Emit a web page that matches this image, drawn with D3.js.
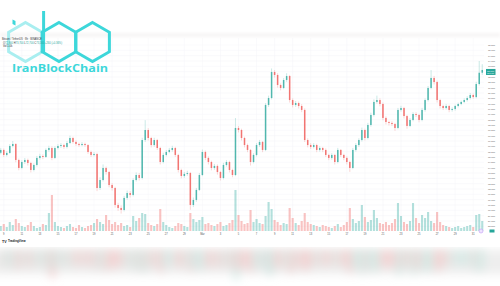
<!DOCTYPE html>
<html>
<head>
<meta charset="utf-8">
<script src="https://cdn.jsdelivr.net/npm/d3@7"></script>
<style>
  body { margin: 0; background: #fff; }
  svg { display: block; }
</style>
</head>
<body>
<script>
"use strict";

// candles (8h)
const opens = [65400,65660,65190,65380,66030,66220,64720,63970,64530,64720,
    64440,63780,64250,64910,65090,65000,65660,65840,64910,65840,
    66030,66120,65940,66310,66780,66410,66220,66120,66220,66120,
    65470,65190,65280,62090,62840,63970,63590,62370,62090,60500,
    60220,60030,61160,61620,61440,62840,63310,63030,66590,67530,
    66780,66120,66590,65840,64530,65190,65470,65660,65840,65190,
    63780,63220,63410,63500,60500,60970,61910,63310,65470,64910,
    64530,63970,64160,63590,63030,64250,64530,63780,63310,67720,
    67530,66780,66120,65660,64530,65190,66120,66410,65660,69880,
    70530,72970,72690,71750,71470,72220,72590,70340,69880,70060,
    69780,69410,66590,66120,65940,66120,65660,65840,65660,65190,
    64910,65190,64530,65660,65190,64910,64530,63970,65660,66120,
    66590,67530,66780,68000,68940,70160,70340,69970,68660,68280,
    68190,68090,67720,69410,69590,68840,67910,68470,69030,68940,
    68470,69410,70340,71470,72410,72030,70340,69780,69590,69780,
    69410,69500,69780,69970,70160,70340,70530,70810,70620,71840,
    72900];

const highs = [65850,65800,65550,66200,66500,66300,64850,64700,64900,64850,
    64550,64400,65100,65300,65250,65800,66050,66000,66000,66200,
    66300,66250,66500,67000,66900,66550,66350,66400,66350,66200,
    65600,65450,65400,63100,64300,64100,63700,62550,62200,60700,
    60450,61350,61850,61800,63000,63550,63500,66800,68450,67700,
    66900,66800,66700,65950,65400,65650,65850,66050,65950,65300,
    63900,63600,63700,63600,61200,62100,63500,65700,65600,65050,
    64650,64350,64300,63700,64450,64700,64650,63900,68650,67900,
    67650,66900,66250,65750,65350,66300,66600,66500,70050,70750,
    73300,73150,72850,71900,72400,72850,72700,70500,70250,70200,
    69950,69550,66750,66300,66300,66250,66000,65950,65800,65300,
    65350,65300,65850,65750,65300,65050,64650,65850,66300,66750,
    67750,67650,68200,69150,70400,70750,70500,70100,68800,68400,
    68350,68200,69600,69800,69700,68950,68650,69200,69200,69050,
    69600,70500,71650,73150,72600,72150,70450,69900,69950,69900,
    69650,69900,70100,70300,70500,70700,71000,70950,72050,74000,
    73700];

const lows = [65250,65000,65050,65300,65900,64500,63750,63850,64350,64200,
    63550,63650,64100,64750,64800,64900,65500,64700,64800,65700,
    65850,65750,65800,66200,66250,66050,65950,66000,65950,65300,
    65000,65050,61800,61900,62700,63350,62150,61850,60250,59950,
    59700,59900,61000,61200,61300,62700,62800,62900,66400,66550,
    65900,65950,65650,64300,64400,65050,65350,65500,65000,63550,
    63000,63050,63250,60050,60300,60800,61800,63200,64700,64300,
    63750,63800,63350,62800,62900,64100,63550,63100,63200,67300,
    66550,65900,65450,64200,64400,65050,65950,65450,65550,69700,
    70400,72450,71500,71250,71350,72050,70100,69650,69700,69550,
    69200,66400,65900,65750,65800,65450,65500,65450,65000,64700,
    64750,64300,64400,65000,64700,64300,63600,63850,65500,65950,
    66450,66550,66650,67850,68800,70000,69750,68450,68050,67950,
    67900,67450,67600,69250,68600,67650,67800,68350,68750,68250,
    68350,69250,70200,71350,71800,70100,69550,69400,69450,69200,
    69250,69350,69650,69850,70050,70200,70400,70450,70500,71700,
    72700];

const closes = [65660,65190,65380,66030,66220,64720,63970,64530,64720,64440,
    63780,64250,64910,65090,65000,65660,65840,64910,65840,66030,
    66120,65940,66310,66780,66410,66220,66120,66220,66120,65470,
    65190,65280,62090,62840,63970,63590,62370,62090,60500,60220,
    60030,61160,61620,61440,62840,63310,63030,66590,67530,66780,
    66120,66590,65840,64530,65190,65470,65660,65840,65190,63780,
    63220,63410,63500,60500,60970,61910,63310,65470,64910,64530,
    63970,64160,63590,63030,64250,64530,63780,63310,67720,67530,
    66780,66120,65660,64530,65190,66120,66410,65660,69880,70530,
    72970,72690,71750,71470,72220,72590,70340,69880,70060,69780,
    69410,66590,66120,65940,66120,65660,65840,65660,65190,64910,
    65190,64530,65660,65190,64910,64530,63970,65660,66120,66590,
    67530,66780,68000,68940,70160,70340,69970,68660,68280,68190,
    68090,67720,69410,69590,68840,67910,68470,69030,68940,68470,
    69410,70340,71470,72410,72030,70340,69780,69590,69780,69410,
    69500,69780,69970,70160,70340,70530,70810,70620,71840,72900,
    73160];

const volumes = [500,700,400,900,600,1200,800,500,400,600,
    900,500,300,400,700,600,1800,3600,900,500,
    400,300,500,700,400,300,600,400,300,500,
    600,800,1200,900,700,1600,1100,700,900,600,
    800,500,600,400,1500,1000,1300,1800,1700,800,
    600,500,700,2200,900,600,400,300,500,800,
    700,500,400,1800,1200,900,1100,1400,700,800,
    600,500,700,900,500,600,800,1100,4100,1600,
    1000,700,800,2100,900,1200,800,700,1500,2900,
    2200,1100,900,600,800,700,2300,1300,800,600,
    1000,1800,900,700,600,500,400,600,500,400,
    300,500,700,400,600,900,2300,1200,800,1000,
    2600,1400,900,1100,2100,1300,800,700,900,600,
    800,1200,2800,1500,900,700,1000,2800,1300,800,
    1600,1300,1900,1000,800,1900,900,600,500,400,
    300,400,500,300,400,500,600,400,1600,1700,
    1000];

// time axis: label text and the candle it sits on
const dateLabels = ["9","11","13","15","17","19","21","23","25","27","29","Mar",
    "3","5","7","9","11","13","15","17","19","21","23","25","27","29","31"];
const dateTickIndex = [1,7,13,19,25,31,37,43,49,55,61,67,
    73,79,85,91,97,103,109,115,121,127,133,139,145,151,157];

const priceTicks = [75500,75000,74500,74000,73500,73000,72500,72000,71500,71000,
    70500,70000,69500,69000,68500,68000,67500,67000,66500,66000,
    65500,65000,64500,64000,63500,63000,62500,62000,61500,61000,
    60500,60000,59500,59000,58500];

const legendTitle = "Bitcoin / TetherUS · 8h · BINANCE";
const lastTimer = "02:14:37";

const W = 500, H = 286;
const up = "#26a69a", down = "#ef5350";
const fmt = d3.format(",");

let svg = d3.select("body").append("svg")
    .attr("width", W)
    .attr("height", H)
    .style("font-family", "'Liberation Sans', 'DejaVu Sans', sans-serif");

let defs = svg.append("defs");
defs.append("filter").attr("id", "blurBig")
    .attr("x", "-20%").attr("y", "-60%").attr("width", "140%").attr("height", "220%")
    .append("feGaussianBlur").attr("stdDeviation", 5);
defs.append("filter").attr("id", "blurSmall")
    .attr("x", "-10%").attr("y", "-100%").attr("width", "120%").attr("height", "300%")
    .append("feGaussianBlur").attr("stdDeviation", 1.5);
defs.append("clipPath").attr("id", "reflClip")
    .append("rect").attr("x", 0).attr("y", 247).attr("width", W).attr("height", 39);

let n = closes.length;
let x = d3.scaleBand()
    .domain(d3.range(n))
    .range([0, 483])
    .paddingInner(0.5)
    .paddingOuter(0);
let bw = x.bandwidth();
let cx = i => x(i) + bw / 2;

let y = d3.scaleLinear().domain([58500, 75500]).range([226.3, 45]);
let yv = d3.scaleLinear().domain([0, 4500]).range([231, 186]);

let isUp = i => closes[i] >= opens[i];

// faint shade band above the pane
svg.append("rect")
    .attr("x", 0).attr("y", 33).attr("width", W).attr("height", 4)
    .attr("fill", "#f7f5f5")
    .attr("filter", "url(#blurSmall)");

// ---------- grid ----------
let grid = svg.append("g");
grid.selectAll("line.h")
    .data(priceTicks)
    .enter().append("line")
    .attr("class", "h")
    .attr("x1", 0).attr("x2", 484)
    .attr("y1", d => y(d)).attr("y2", d => y(d))
    .attr("stroke", "#f4f5f8").attr("stroke-width", 0.5);

grid.selectAll("line.v")
    .data(dateTickIndex)
    .enter().append("line")
    .attr("class", "v")
    .attr("x1", d => cx(d)).attr("x2", d => cx(d))
    .attr("y1", 38).attr("y2", 231)
    .attr("stroke", "#f4f5f8").attr("stroke-width", 0.5);

// ---------- watermark logo ----------
let logo = svg.append("g");
function hexPath(c, r) {
    let pts = d3.range(6).map(k => {
        let a = Math.PI / 3 * k - Math.PI / 2;
        return [c[0] + r * Math.cos(a), c[1] + r * Math.sin(a)];
    });
    return d3.line()(pts) + "Z";
}
const logoCyan = "#3dd7da";
logo.append("path")
    .attr("d", hexPath([25.5, 42], 19.5))
    .attr("fill", "none").attr("stroke", "#a9eef0")
    .attr("stroke-width", 3);
logo.append("path")
    .attr("d", hexPath([59, 42], 19.5))
    .attr("fill", "none").attr("stroke", logoCyan)
    .attr("stroke-width", 3);
logo.append("path")
    .attr("d", hexPath([92.5, 42], 19.5))
    .attr("fill", "none").attr("stroke", logoCyan)
    .attr("stroke-width", 3);
// ascender of the b
logo.append("line")
    .attr("x1", 43.6).attr("x2", 43.6).attr("y1", 11).attr("y2", 52)
    .attr("stroke", logoCyan).attr("stroke-width", 3);
// dot of the i
logo.append("path")
    .attr("d", "M12.5,19.5 L15.5,21 L15.5,25.5 L12.5,24 Z")
    .attr("fill", logoCyan);
logo.append("text")
    .attr("x", 12).attr("y", 71.5)
    .attr("textLength", 96).attr("lengthAdjust", "spacingAndGlyphs")
    .attr("font-family", "'Open Sans', 'DejaVu Sans', sans-serif")
    .attr("font-weight", 700).attr("font-size", 10.5)
    .attr("fill", logoCyan)
    .text("IranBlockChain");

// ---------- legend ----------
let legend = svg.append("g").attr("font-size", 2.6).attr("fill", "#333");
legend.append("text").attr("x", 2).attr("y", 40).text(legendTitle);
let last = n - 1;
let chg = closes[last] - closes[last - 1];
let chgCol = chg >= 0 ? up : down;
let ohlc = legend.append("text").attr("x", 3).attr("y", 43.5);
[["O", opens[last]], ["H", highs[last]], ["L", lows[last]], ["C", closes[last]]].forEach(p => {
    ohlc.append("tspan").text(p[0]);
    ohlc.append("tspan").attr("fill", chgCol).text(fmt(p[1]) + " ");
});
ohlc.append("tspan").attr("fill", chgCol)
    .text(d3.format("+,")(chg) + " (" + d3.format("+.2%")(chg / closes[last - 1]) + ")");
legend.append("text").attr("x", 3).attr("y", 47).text("Vol " + d3.format(".2s")(volumes[last]));

// ---------- volume ----------
svg.append("g").selectAll("rect")
    .data(volumes)
    .enter().append("rect")
    .attr("x", (d, i) => x(i) - 0.3)
    .attr("width", bw + 0.6)
    .attr("y", d => yv(d))
    .attr("height", d => yv(0) - yv(d))
    .attr("fill", (d, i) => isUp(i) ? up : down)
    .attr("fill-opacity", 0.35);

// ---------- candles ----------
let candles = svg.append("g").selectAll("g")
    .data(closes)
    .enter().append("g")
    .attr("opacity", 0.8);

candles.append("line")
    .attr("x1", (d, i) => cx(i)).attr("x2", (d, i) => cx(i))
    .attr("y1", (d, i) => y(highs[i]))
    .attr("y2", (d, i) => y(lows[i]))
    .attr("stroke", (d, i) => isUp(i) ? up : down)
    .attr("stroke-opacity", 0.6)
    .attr("stroke-width", 0.5);

candles.append("rect")
    .attr("x", (d, i) => x(i))
    .attr("width", bw)
    .attr("y", (d, i) => y(Math.max(opens[i], closes[i])))
    .attr("height", (d, i) => Math.max(0.6, Math.abs(y(opens[i]) - y(closes[i]))))
    .attr("fill", (d, i) => isUp(i) ? up : down);

// ---------- price axis ----------
let pAxis = svg.append("g").attr("font-size", 2.5).attr("fill", "#555");
pAxis.selectAll("text")
    .data(priceTicks)
    .enter().append("text")
    .attr("x", 488).attr("y", d => y(d) + 0.9)
    .attr("textLength", 7).attr("lengthAdjust", "spacingAndGlyphs")
    .text(d => fmt(d));

// last price tag
let tagY = y(closes[last]);
svg.append("rect")
    .attr("x", 486).attr("y", tagY - 1).attr("width", 9.5).attr("height", 6)
    .attr("fill", chgCol);
svg.append("text")
    .attr("x", 487).attr("y", tagY + 1.7)
    .attr("font-size", 2.2).attr("fill", "#fff")
    .attr("textLength", 7).attr("lengthAdjust", "spacingAndGlyphs")
    .text(fmt(closes[last]));
svg.append("text")
    .attr("x", 487).attr("y", tagY + 4.4)
    .attr("font-size", 2.2).attr("fill", "#fff")
    .attr("textLength", 7).attr("lengthAdjust", "spacingAndGlyphs")
    .text(lastTimer);

// volume tag and marker
svg.append("rect")
    .attr("x", 489.5).attr("y", yv(0) - 1.5).attr("width", 5).attr("height", 3)
    .attr("fill", chgCol);
svg.append("circle")
    .attr("cx", 481).attr("cy", 231).attr("r", 2)
    .attr("fill", "#efe3ff").attr("stroke", "#c39cf5").attr("stroke-width", 0.6);

// ---------- time axis ----------
svg.append("g").attr("font-size", 2.6).attr("fill", "#555")
    .selectAll("text")
    .data(dateTickIndex)
    .enter().append("text")
    .attr("x", d => cx(d))
    .attr("y", 234.5)
    .attr("text-anchor", "middle")
    .text((d, k) => dateLabels[k]);

// TradingView mark
let tv = svg.append("g").attr("fill", "#131722");
tv.append("text").attr("x", 2).attr("y", 242.6)
    .attr("font-size", 3.6).attr("font-weight", 700).text("TV");
tv.append("text").attr("x", 8).attr("y", 242.4)
    .attr("font-size", 3).attr("font-weight", 700).text("TradingView");

// ---------- blurred reflection strip ----------
let refl = svg.append("g").attr("clip-path", "url(#reflClip)");
refl.append("rect")
    .attr("x", -10).attr("y", 250).attr("width", W + 20).attr("height", 24)
    .attr("fill", "#eeeeee")
    .attr("filter", "url(#blurBig)");
let reflBars = refl.append("g").attr("filter", "url(#blurBig)");
reflBars.selectAll("rect")
    .data(volumes)
    .enter().append("rect")
    .attr("x", (d, i) => x(i) - 1)
    .attr("width", x.step() + 2)
    .attr("y", 250)
    .attr("height", d => 14 + (yv(0) - yv(d)) * 0.4)
    .attr("fill", (d, i) => isUp(i) ? "#c9e6e0" : "#f5c4c4")
    .attr("fill-opacity", d => 0.3 + d / 4500 * 0.5);
</script>
</body>
</html>
